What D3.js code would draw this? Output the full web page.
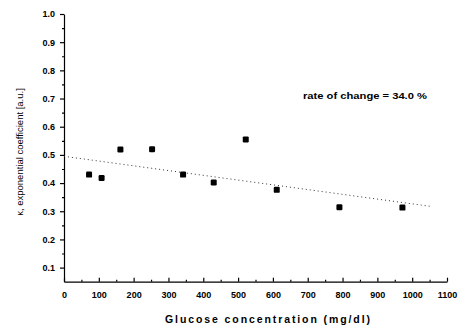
<!DOCTYPE html>
<html>
<head>
<meta charset="utf-8">
<script src="https://cdn.jsdelivr.net/npm/d3@7"></script>
<style>
  body { margin: 0; background: #fff; }
  svg text { font-family: "Liberation Sans", Arial, sans-serif; fill: #000; }
  .axis path, .axis line { stroke: #000; stroke-width: 1.2; }
  .axis text { font-size: 9px; font-weight: bold; }
</style>
</head>
<body>
<div id="chart"></div>
<script>
// measured points
var glucose = [72, 108, 162, 253, 342, 430, 522, 611, 791, 972];
var coefficient = [0.430, 0.418, 0.519, 0.520, 0.430, 0.402, 0.555, 0.376, 0.314, 0.313];

// linear fit end points
var fitX = [0, 1055];
var fitY = [0.495, 0.317];

var xTicks = [0, 100, 200, 300, 400, 500, 600, 700, 800, 900, 1000, 1100];
var yTicks = [0.1, 0.2, 0.3, 0.4, 0.5, 0.6, 0.7, 0.8, 0.9, 1.0];

function init() {
    var w = 460;
    var h = 326;

    var svg = d3.select("#chart")
        .append("svg")
        .attr("width", w)
        .attr("height", h);

    var xScale = d3.scaleLinear()
        .domain([0, 1100])
        .range([64, 447]);

    var yScale = d3.scaleLinear()
        .domain([0.05, 1.0])
        .range([281.7, 14]);

    // minor ticks first, drawn under the main axes
    var xMinor = d3.range(50, 1100, 100);
    var yMinor = d3.range(0.15, 1.0, 0.1);

    svg.append("g")
        .attr("class", "axis")
        .attr("transform", "translate(0," + yScale(0.05) + ")")
        .call(d3.axisBottom(xScale).tickValues(xMinor).tickSize(-2).tickFormat(""))
        .select(".domain").remove();

    svg.append("g")
        .attr("class", "axis")
        .attr("transform", "translate(" + xScale(0) + ",0)")
        .call(d3.axisLeft(yScale).tickValues(yMinor).tickSize(2).tickFormat(""))
        .select(".domain").remove();

    // x axis, ticks pointing up
    svg.append("g")
        .attr("class", "axis")
        .attr("transform", "translate(0," + yScale(0.05) + ")")
        .call(d3.axisBottom(xScale)
            .tickValues(xTicks)
            .tickSizeInner(-4)
            .tickSizeOuter(0)
            .tickPadding(10)
            .tickFormat(d3.format("d")));

    // y axis
    svg.append("g")
        .attr("class", "axis")
        .attr("transform", "translate(" + xScale(0) + ",0)")
        .call(d3.axisLeft(yScale)
            .tickValues(yTicks)
            .tickSizeInner(4)
            .tickSizeOuter(0)
            .tickPadding(5)
            .tickFormat(d3.format(".1f")));

    // dotted fit line
    var line = d3.line()
        .x(function(d) { return xScale(d[0]); })
        .y(function(d) { return yScale(d[1]); });

    svg.append("path")
        .datum(d3.zip(fitX, fitY))
        .attr("d", line)
        .attr("fill", "none")
        .attr("stroke", "#333")
        .attr("stroke-width", 1)
        .attr("stroke-dasharray", "1,3");

    // data squares
    svg.selectAll("rect.pt")
        .data(d3.zip(glucose, coefficient))
        .enter()
        .append("rect")
        .attr("class", "pt")
        .attr("x", function(d) { return xScale(d[0]) - 3; })
        .attr("y", function(d) { return yScale(d[1]) - 3; })
        .attr("width", 6)
        .attr("height", 6)
        .attr("rx", 1.2)
        .attr("fill", "#000");

    svg.append("text")
        .attr("x", 303)
        .attr("y", 99)
        .attr("font-size", 8.5)
        .attr("font-weight", "bold")
        .attr("textLength", 124)
        .attr("lengthAdjust", "spacingAndGlyphs")
        .text("rate of change = 34.0 %");

    svg.append("text")
        .attr("x", 165)
        .attr("y", 323)
        .attr("font-size", 10.5)
        .attr("font-weight", "bold")
        .attr("textLength", 205)
        .attr("lengthAdjust", "spacing")
        .text("Glucose concentration (mg/dl)");

    svg.append("text")
        .attr("transform", "translate(23,152) rotate(-90)")
        .attr("text-anchor", "middle")
        .attr("font-size", 9.5)
        .text("κ, exponential coefficient [a.u.]");
}

window.onload = init;
</script>
</body>
</html>
